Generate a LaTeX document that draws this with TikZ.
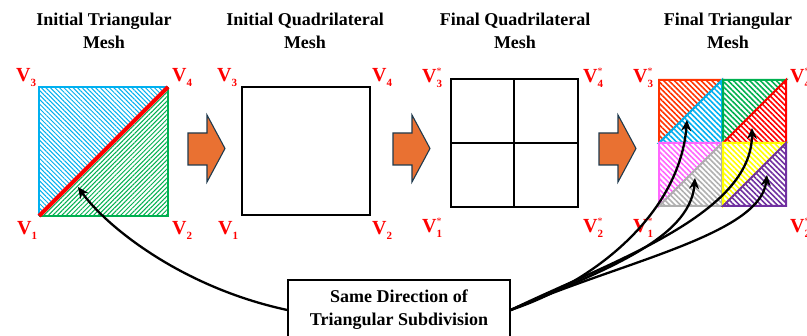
\documentclass[tikz,border=0pt]{standalone}
\usepackage{fontspec}
\setmainfont{Liberation Serif}
\usetikzlibrary{patterns.meta,arrows.meta}
\definecolor{oarrow}{HTML}{E97132}
\definecolor{oedge}{HTML}{1F3A4D}
\definecolor{cblue}{HTML}{00B0F0}
\definecolor{cgreen}{HTML}{00B050}
\definecolor{cred}{HTML}{FF3300}
\definecolor{cpink}{HTML}{FF66FF}
\definecolor{cgray}{HTML}{B0B0B0}
\definecolor{cyel}{HTML}{FFFF00}
\definecolor{cpurp}{HTML}{7030A0}
\newcommand{\Vl}[1]{{\fontsize{20}{20}\selectfont\bfseries V}\raisebox{-5pt}{\fontsize{11}{11}\selectfont\bfseries #1}}
\newcommand{\Vs}[1]{{\fontsize{20}{20}\selectfont\bfseries V}\rlap{\raisebox{8pt}{\fontsize{10}{10}\selectfont *}}\raisebox{-5pt}{\fontsize{11}{11}\selectfont\bfseries #1}}
\begin{document}
\begin{tikzpicture}[x=1pt,y=-1pt,
  title/.style={font=\fontsize{18}{23}\selectfont\bfseries, align=center, inner sep=0pt},
  vlab/.style={text=red, anchor=base west, inner sep=0pt},
  blockarrow/.style={fill=oarrow, draw=oedge, line width=1.1pt, line join=miter},
  fine/.style={pattern={Lines[angle=-45,distance=3.2pt,line width=1pt]}},
  fineup/.style={pattern={Lines[angle=45,distance=3.2pt,line width=1pt]}},
  coarse/.style={pattern={Lines[angle=-45,distance=3.8pt,line width=1.6pt]}},
  conn/.style={line width=2.3pt, -{Stealth[length=11pt,width=10pt]}}]
\useasboundingbox (0,0) rectangle (807,336);
\fill[white] (0,0) rectangle (807,336);

% titles
\node[title] (t1) at (104,31) {Initial Triangular\\Mesh};
\node[title] (t2) at (305,31) {Initial Quadrilateral\\Mesh};
\node[title] (t3) at (515,31) {Final Quadrilateral\\Mesh};
\node[title] (t4) at (728,31) {Final Triangular\\Mesh};

% panel 1
\fill[white] (39,87) rectangle (168,216);
\path[fine, pattern color=cblue] (39,216) -- (39,87) -- (168,87) -- cycle;
\path[fineup, pattern color=cgreen] (39,216) -- (168,87) -- (168,216) -- cycle;
\draw[cblue, line width=2pt] (39,216) -- (39,87) -- (168,87);
\draw[cgreen, line width=2pt] (168,87) -- (168,216) -- (39,216);
\draw[red, line width=4pt] (39,216) -- (168,87);
\node[vlab] (a3) at (16,82) {\Vl{3}};
\node[vlab] (a4) at (172,82) {\Vl{4}};
\node[vlab] (a1) at (17,235) {\Vl{1}};
\node[vlab] (a2) at (172,235) {\Vl{2}};

% panel 2
\draw[line width=2pt] (242,87) rectangle (370,215);
\node[vlab] (b3) at (217,82) {\Vl{3}};
\node[vlab] (b4) at (372,82) {\Vl{4}};
\node[vlab] (b1) at (218,235) {\Vl{1}};
\node[vlab] (b2) at (372,235) {\Vl{2}};

% panel 3
\draw[line width=2.3pt] (451,79) rectangle (578,207);
\draw[line width=2.3pt] (514,79) -- (514,207);
\draw[line width=2.3pt] (451,143) -- (578,143);
\node[vlab] (c3) at (422,83) {\Vs{3}};
\node[vlab] (c4) at (583,83) {\Vs{4}};
\node[vlab] (c1) at (422,233) {\Vs{1}};
\node[vlab] (c2) at (583,233) {\Vs{2}};

% panel 4
\fill[white] (659,80) rectangle (787,207);
\foreach \x/\y/\ca/\cb in {659/80/cred/cblue, 723/80/cgreen/red, 659/143/cpink/cgray, 723/143/cyel/cpurp}{
  \path[coarse, pattern color=\ca] (\x,\y+63) -- (\x,\y) -- (\x+63,\y) -- cycle;
  \draw[\ca, line width=2pt] (\x,\y+63) -- (\x,\y) -- (\x+63,\y) -- cycle;
  \path[coarse, pattern color=\cb] (\x,\y+63) -- (\x+63,\y) -- (\x+63,\y+63) -- cycle;
  \draw[\cb, line width=2pt] (\x,\y+63) -- (\x+63,\y) -- (\x+63,\y+63) -- cycle;
}
\node[vlab] (d3) at (633,83) {\Vs{3}};
\node[vlab] (d4) at (790,83) {\Vs{4}};
\node[vlab] (d1) at (633,233) {\Vs{1}};
\node[vlab] (d2) at (790,233) {\Vs{2}};

% block arrows
\foreach \s in {0,205,411}{
  \draw[blockarrow] (188+\s,133) -- (207+\s,133) -- (207+\s,115) -- (225+\s,148.5)
     -- (207+\s,182) -- (207+\s,165) -- (188+\s,165) -- cycle;
}

% box
\node[draw, line width=1.4pt, minimum width=222pt, minimum height=60pt, inner sep=0pt,
      font=\fontsize{18}{23}\selectfont\bfseries, align=center] (box) at (399,310)
  {Same Direction of\\Triangular Subdivision};

% connector targets
\coordinate (p1) at (78,187);
\coordinate (q1) at (687,120);
\coordinate (q2) at (752,128);
\coordinate (q3) at (695,178);
\coordinate (q4) at (767,175);

\draw[conn] (box.west) .. controls (180,287) and (105,225) .. (p1);
\draw[conn] (box.east) .. controls (600,280) and (680,210) .. (q1);
\draw[conn] (box.east) .. controls (610,262) and (752,215) .. (q2);
\draw[conn] (box.east) .. controls (600,272) and (690,240) .. (q3);
\draw[conn] (box.east) .. controls (620,262) and (760,235) .. (q4);
\end{tikzpicture}
\end{document}
